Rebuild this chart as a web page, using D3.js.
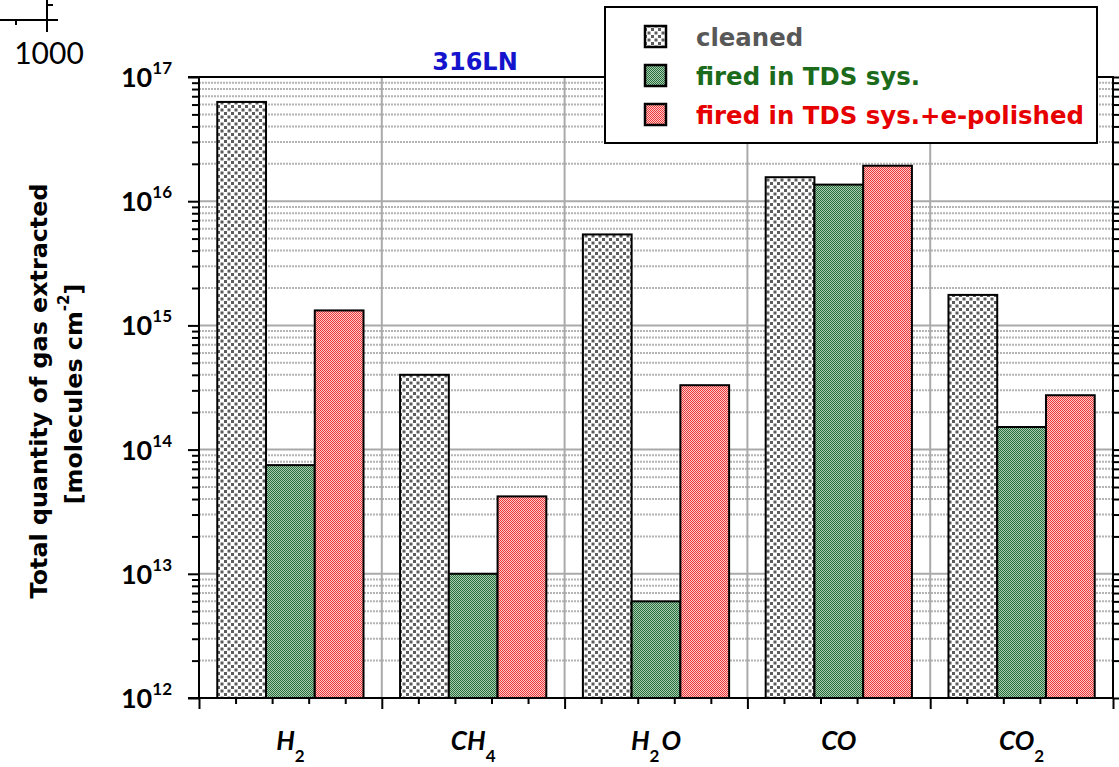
<!DOCTYPE html>
<html>
<head>
<meta charset="utf-8">
<script src="https://cdn.jsdelivr.net/npm/d3@7"></script>
<style>
  html, body { margin: 0; padding: 0; background: #fff; }
  svg { display: block; font-family: Lato, "DejaVu Sans", sans-serif; }
  .wide { font-family: "DejaVu Sans", sans-serif; }
</style>
</head>
<body>
<svg id="chart" width="1119" height="767"></svg>
<script>
// Gas species (label base + subscript)
const categories = ["H2", "CH4", "H2O", "CO", "CO2"];
const categoryBase = ["H", "CH", "H", "CO", "CO"];
const categorySub = ["2", "4", "2", "", "2"];
const categorySuffix = ["", "", "O", "", ""];

// Treatments
const seriesNames = ["cleaned", "fired in TDS sys.", "fired in TDS sys.+e-polished"];
const seriesColors = ["#585858", "#1b6b1b", "#e60000"];

// Total quantity of gas extracted [molecules cm^-2]
const cleaned = [6.3e16, 4.0e14, 5.4e15, 1.56e16, 1.76e15];
const firedTDS = [7.5e13, 1.0e13, 6.0e12, 1.36e16, 1.52e14];
const firedPolished = [1.32e15, 4.2e13, 3.3e14, 1.93e16, 2.74e14];

// Decade labels for the log axis
const decadeExponents = [12, 13, 14, 15, 16, 17];

const allSeries = [cleaned, firedTDS, firedPolished];

const svg = d3.select("#chart");
const plotLeft = 199, plotRight = 1113, plotTop = 77, plotBottom = 698;

const x = d3.scaleBand().domain(categories).range([plotLeft, plotRight]).paddingInner(0).paddingOuter(0);
const xs = d3.scaleBand().domain(seriesNames).range([0, x.bandwidth()]).paddingInner(0).paddingOuter(0.375);
const y = d3.scaleLog().domain([1e12, 1e17]).range([plotBottom, plotTop]);

// ---- fill patterns ----
const defs = svg.append("defs");
const pDots = defs.append("pattern").attr("id", "pat-cleaned")
  .attr("patternUnits", "userSpaceOnUse").attr("width", 7).attr("height", 7);
pDots.append("rect").attr("width", 7).attr("height", 7).attr("fill", "#ffffff");
pDots.append("rect").attr("x", 0).attr("y", 0).attr("width", 3).attr("height", 3).attr("fill", "#5c5c5c");
pDots.append("rect").attr("x", 3.5).attr("y", 3.5).attr("width", 3).attr("height", 3).attr("fill", "#5c5c5c");

function checker(id, bg, fg) {
  const p = defs.append("pattern").attr("id", id)
    .attr("patternUnits", "userSpaceOnUse").attr("width", 2).attr("height", 2);
  p.append("rect").attr("width", 2).attr("height", 2).attr("fill", bg);
  p.append("rect").attr("x", 0).attr("y", 0).attr("width", 1).attr("height", 1).attr("fill", fg);
  p.append("rect").attr("x", 1).attr("y", 1).attr("width", 1).attr("height", 1).attr("fill", fg);
}
checker("pat-fired", "#a9cdb1", "#2a6e3e");
checker("pat-polished", "#ffcaca", "#ec3838");
const fills = ["url(#pat-cleaned)", "url(#pat-fired)", "url(#pat-polished)"];

// ---- grid ----
const grid = svg.append("g");
const minorVals = [];
for (let e = 12; e < 17; e++) for (let m = 2; m <= 9; m++) minorVals.push(m * Math.pow(10, e));
const majorVals = decadeExponents.map(e => Math.pow(10, e));

grid.selectAll(".minor").data(minorVals).enter().append("line")
  .attr("x1", plotLeft).attr("x2", plotRight)
  .attr("y1", d => y(d)).attr("y2", d => y(d))
  .attr("stroke", "#b4b4b4").attr("stroke-width", 2).attr("stroke-dasharray", "2,1");
grid.selectAll(".major").data(majorVals.slice(1, -1)).enter().append("line")
  .attr("x1", plotLeft).attr("x2", plotRight)
  .attr("y1", d => y(d)).attr("y2", d => y(d))
  .attr("stroke", "#aaaaaa").attr("stroke-width", 2);
grid.selectAll(".vgrid").data(categories.slice(1)).enter().append("line")
  .attr("x1", d => x(d)).attr("x2", d => x(d))
  .attr("y1", plotTop).attr("y2", plotBottom)
  .attr("stroke", "#aaaaaa").attr("stroke-width", 2);

// ---- bars ----
const bars = svg.append("g");
allSeries.forEach((vals, si) => {
  bars.selectAll(".s" + si).data(vals).enter().append("rect")
    .attr("x", (d, i) => x(categories[i]) + xs(seriesNames[si]))
    .attr("width", xs.bandwidth())
    .attr("y", d => y(d))
    .attr("height", d => plotBottom - y(d))
    .attr("fill", fills[si])
    .attr("stroke", "#000").attr("stroke-width", 2);
});

// ---- axes ----
const axisMinorL = d3.axisLeft(y).tickValues(minorVals).tickSize(7).tickFormat("");
const axisMajorL = d3.axisLeft(y).tickValues(majorVals).tickSize(11).tickFormat("");
const axisMinorR = d3.axisRight(y).tickValues(minorVals).tickSize(7).tickFormat("");
const axisMajorR = d3.axisRight(y).tickValues(majorVals).tickSize(11).tickFormat("");

function styleAxis(g) {
  g.select(".domain").remove();
  g.selectAll(".tick line").attr("stroke", "#000").attr("stroke-width", 2);
}
svg.append("g").attr("transform", `translate(${plotLeft},0)`).call(axisMinorL).call(styleAxis);
svg.append("g").attr("transform", `translate(${plotLeft},0)`).call(axisMajorL).call(styleAxis);
svg.append("g").attr("transform", `translate(${plotRight},0)`).call(axisMinorR).call(styleAxis);
svg.append("g").attr("transform", `translate(${plotRight},0)`).call(axisMajorR).call(styleAxis);

// bottom: major ticks at category edges, minor ticks at fifths
const xEdges = d3.scaleLinear().domain([0, categories.length]).range([plotLeft, plotRight]);
const minorX = d3.range(0, categories.length * 5 + 1).filter(k => k % 5 !== 0).map(k => k / 5);
const majorX = d3.range(0, categories.length + 1);
svg.append("g").attr("transform", `translate(0,${plotBottom})`)
  .call(d3.axisBottom(xEdges).tickValues(minorX).tickSize(6).tickFormat("")).call(styleAxis);
svg.append("g").attr("transform", `translate(0,${plotBottom})`)
  .call(d3.axisBottom(xEdges).tickValues(majorX).tickSize(11).tickFormat("")).call(styleAxis);

// frame lines
svg.append("line").attr("x1", plotLeft).attr("x2", plotLeft).attr("y1", plotTop - 1).attr("y2", plotBottom + 1)
  .attr("stroke", "#000").attr("stroke-width", 2);
svg.append("line").attr("x1", plotRight).attr("x2", plotRight).attr("y1", plotTop - 1).attr("y2", plotBottom + 1)
  .attr("stroke", "#000").attr("stroke-width", 2);
svg.append("line").attr("x1", plotLeft - 11).attr("x2", plotRight).attr("y1", plotTop).attr("y2", plotTop)
  .attr("stroke", "#000").attr("stroke-width", 2);
svg.append("line").attr("x1", plotLeft - 11).attr("x2", plotRight).attr("y1", plotBottom).attr("y2", plotBottom)
  .attr("stroke", "#000").attr("stroke-width", 2);

// ---- y tick labels 10^n ----
const yl = svg.append("g");
decadeExponents.forEach(e => {
  const t = yl.append("text")
    .attr("x", 172).attr("y", y(Math.pow(10, e)) + 10)
    .attr("text-anchor", "end").attr("font-weight", "bold").attr("font-size", 27).attr("fill", "#000");
  t.append("tspan").text("10");
  t.append("tspan").attr("font-size", 17).attr("dy", -13).text(String(e));
});

// ---- x labels ----
const xl = svg.append("g");
categories.forEach((c, i) => {
  const cx = x(c) + x.bandwidth() / 2;
  const t = xl.append("text")
    .attr("x", cx).attr("y", 750)
    .attr("text-anchor", "middle").attr("font-weight", "bold").attr("font-style", "italic")
    .attr("font-size", 26).attr("fill", "#000");
  t.append("tspan").text(categoryBase[i]);
  if (categorySub[i]) t.append("tspan").attr("font-size", 17).attr("dy", 12).attr("font-style", "normal").text(categorySub[i]);
  if (categorySuffix[i]) t.append("tspan").attr("dy", -12).attr("dx", 2).text(categorySuffix[i]);
});

// ---- y axis title ----
const yt = svg.append("g").attr("class", "wide").attr("transform", "translate(0,391) rotate(-90)");
yt.append("text").attr("text-anchor", "middle").attr("y", 47)
  .attr("font-weight", "bold").attr("font-size", 23.8).attr("fill", "#000")
  .text("Total quantity of gas extracted");
const yt2 = yt.append("text").attr("text-anchor", "middle").attr("y", 82).attr("x", -3)
  .attr("font-weight", "bold").attr("font-size", 23.8).attr("fill", "#000");
yt2.append("tspan").text("[molecules cm");
yt2.append("tspan").attr("font-size", 15).attr("dy", -13).text("-2");
yt2.append("tspan").attr("dy", 13).text("]");

// ---- title ----
svg.append("text").attr("class", "wide").attr("x", 475).attr("y", 70).attr("text-anchor", "middle")
  .attr("font-weight", "bold").attr("font-size", 24).attr("fill", "#1414cc").text("316LN");

// ---- legend ----
const lg = svg.append("g").attr("class", "wide");
lg.append("rect").attr("x", 605).attr("y", 7).attr("width", 492).attr("height", 136)
  .attr("fill", "#fff").attr("stroke", "#000").attr("stroke-width", 2);
const legendY = d3.scalePoint().domain(seriesNames).range([36, 114]);
seriesNames.forEach((s, i) => {
  lg.append("rect").attr("x", 645).attr("y", legendY(s) - 10).attr("width", 21).attr("height", 21)
    .attr("fill", fills[i]).attr("stroke", "#000").attr("stroke-width", 2.5);
  lg.append("text").attr("x", 696).attr("y", legendY(s) + 10)
    .attr("font-weight", "bold").attr("font-size", 24.4).attr("fill", seriesColors[i]).text(s);
});

// ---- stray axis fragment at top-left ----
const frag = svg.append("g").attr("stroke", "#000").attr("stroke-width", 2);
frag.append("line").attr("x1", 0).attr("x2", 58).attr("y1", 20).attr("y2", 20);
frag.append("line").attr("x1", 47).attr("x2", 47).attr("y1", 0).attr("y2", 32);
frag.append("line").attr("x1", 16).attr("x2", 16).attr("y1", 20).attr("y2", 25);
frag.append("line").attr("x1", 47).attr("x2", 53).attr("y1", 5).attr("y2", 5);
svg.append("text").attr("x", 49).attr("y", 64).attr("text-anchor", "middle")
  .attr("font-size", 30).attr("fill", "#000").text("1000");
</script>
</body>
</html>
